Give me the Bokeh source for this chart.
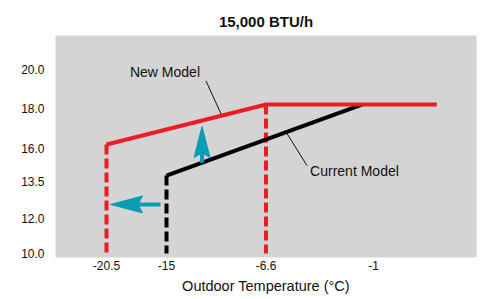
import numpy as np
from bokeh.plotting import figure
from bokeh.models import Range1d, FixedTicker, Label
from bokeh.embed import file_html
from bokeh.resources import INLINE

# ---------------- data ----------------
title_text = "15,000 BTU/h"
x_axis_label = "Outdoor Temperature (°C)"
x_ticks = [-20.5, -15, -6.6, -1]
x_tick_labels = ["-20.5", "-15", "-6.6", "-1"]
y_ticks = [10.0, 12.0, 13.5, 16.0, 18.0, 20.0]
y_tick_labels = ["10.0", "12.0", "13.5", "16.0", "18.0", "20.0"]

new_temp = [-20.5, -6.6, 2.3]
new_cap = [16.2, 18.2, 18.2]
cur_temp = [-15, -1.6]
cur_cap = [13.95, 18.2]
floor_cap = 10.0

new_label = "New Model"
cur_label = "Current Model"
new_label_temp = -10.4
cur_label_temp = -5.5

left_arrow_cap = 12.57
left_arrow_temps = [-15.55, -20.13]   # tail, tip
up_arrow_temp = -12.0
up_arrow_tip_cap = 17.1

# ---------------- layout (screen positions of the stylised, non-linear axes) ----------------
FRAME_W, FRAME_H = 421, 222
X_TICK_POS = [51, 111, 210.5, 318]
Y_TICK_POS = [4, 39, 76, 109, 149, 188]

RED = "#ec1c24"
BLACK = "#000000"
CYAN = "#0a9cb4"
BG = "#d4d4d4"
FONT = "Liberation Sans"


def piecewise(v, src, dst):
    src = np.asarray(src, float)
    dst = np.asarray(dst, float)
    v = np.atleast_1d(np.asarray(v, float))
    out = np.interp(v, src, dst)
    lo = v < src[0]
    hi = v > src[-1]
    out[lo] = dst[0] + (v[lo] - src[0]) * (dst[1] - dst[0]) / (src[1] - src[0])
    out[hi] = dst[-1] + (v[hi] - src[-1]) * (dst[-1] - dst[-2]) / (src[-1] - src[-2])
    return out


def tx(t):
    return piecewise(t, x_ticks, X_TICK_POS)


def vy(c):
    return piecewise(c, y_ticks, Y_TICK_POS)


p = figure(frame_width=FRAME_W, frame_height=FRAME_H, output_backend="svg", toolbar_location=None,
           x_range=Range1d(0, FRAME_W), y_range=Range1d(0, FRAME_H),
           min_border_left=55, min_border_right=9, min_border_top=35, min_border_bottom=42)
p.background_fill_color = BG
p.border_fill_color = "white"
p.outline_line_color = None
p.grid.visible = False

p.title.text = title_text
p.title.align = "center"
p.title.vertical_align = "middle"
p.title.text_font = FONT
p.title.text_font_size = "15px"
p.title.text_font_style = "bold"
p.title.text_color = "#111111"
p.title.standoff = 10

for ax in (p.xaxis[0], p.yaxis[0]):
    ax.axis_line_color = None
    ax.major_tick_line_color = None
    ax.minor_tick_line_color = None
    ax.major_tick_out = 0
    ax.major_tick_in = 0
    ax.minor_tick_out = 0
    ax.minor_tick_in = 0
    ax.major_label_text_font = FONT
    ax.major_label_text_font_size = "12px"
    ax.major_label_text_color = "#111111"

p.xaxis.ticker = FixedTicker(ticks=list(X_TICK_POS))
p.xaxis.major_label_overrides = {float(pos): lab for pos, lab in zip(X_TICK_POS, x_tick_labels)}
p.xaxis.major_label_standoff = 3
p.xaxis.axis_label = x_axis_label
p.xaxis.axis_label_text_font = FONT
p.xaxis.axis_label_text_font_size = "14.5px"
p.xaxis.axis_label_text_font_style = "normal"
p.xaxis.axis_label_text_color = "#111111"
p.xaxis.axis_label_standoff = 5

p.yaxis.ticker = FixedTicker(ticks=list(Y_TICK_POS))
p.yaxis.major_label_overrides = {float(pos): lab for pos, lab in zip(Y_TICK_POS, y_tick_labels)}
p.yaxis.major_label_standoff = 11

# dashed verticals down to the floor
p.line(tx([new_temp[0]] * 2), vy([new_cap[0], floor_cap]), line_color=RED, line_width=4, line_dash="10 4")
p.line(tx([new_temp[1]] * 2), vy([new_cap[1], floor_cap]), line_color=RED, line_width=4, line_dash="10 4")
p.line(tx([cur_temp[0]] * 2), vy([cur_cap[0], floor_cap]), line_color=BLACK, line_width=4, line_dash="10 4")

# capacity curves
p.line(tx(cur_temp), vy(cur_cap), line_color=BLACK, line_width=4, line_join="miter")
p.line(tx(new_temp), vy(new_cap), line_color=RED, line_width=4, line_join="miter")


def arrow(x0, y0, x1, y1, length=32, half=8.5, notch=4.5, shaft=4):
    d = np.array([x1 - x0, y1 - y0], float)
    d /= np.hypot(*d)
    n = np.array([-d[1], d[0]])
    tip = np.array([x1, y1])
    back = tip - d * length
    nb = tip - d * (length - notch)
    p.line([x0, nb[0]], [y0, nb[1]], line_color=CYAN, line_width=shaft)
    pts = [tip, back + n * half, nb, back - n * half]
    p.patch([q[0] for q in pts], [q[1] for q in pts], fill_color=CYAN, line_color=CYAN, line_width=1)


# left arrow: extended low-temperature range
ax0, ax1 = tx(left_arrow_temps)
ay = vy(left_arrow_cap)[0]
arrow(ax0, ay, ax1, ay)

# up arrow: capacity gain
ux = tx(up_arrow_temp)[0]
uy0 = np.interp(ux, tx(cur_temp), vy(cur_cap))
uy1 = vy(up_arrow_tip_cap)[0]
arrow(ux, uy0, ux, uy1, length=31, half=8)

# labels with leader lines
nx = tx(new_label_temp)[0]
ny = np.interp(nx, tx(new_temp), vy(new_cap)) + 2
p.line([nx, nx - 15], [ny, ny + 33], line_color="#111111", line_width=1)
p.add_layout(Label(x=nx - 15, y=ny + 33, x_offset=-41, y_offset=9, text=new_label,
                   text_font=FONT, text_font_size="14px", text_color="#111111",
                   text_align="center", text_baseline="middle"))

cx = tx(cur_label_temp)[0]
cy = np.interp(cx, tx(cur_temp), vy(cur_cap)) - 2
p.line([cx, cx + 20], [cy, cy - 32], line_color="#111111", line_width=1)
p.add_layout(Label(x=cx + 20, y=cy - 32, x_offset=3, y_offset=-5, text=cur_label,
                   text_font=FONT, text_font_size="14px", text_color="#111111",
                   text_align="left", text_baseline="middle"))

open("out.html", "w").write(file_html(p, INLINE))
